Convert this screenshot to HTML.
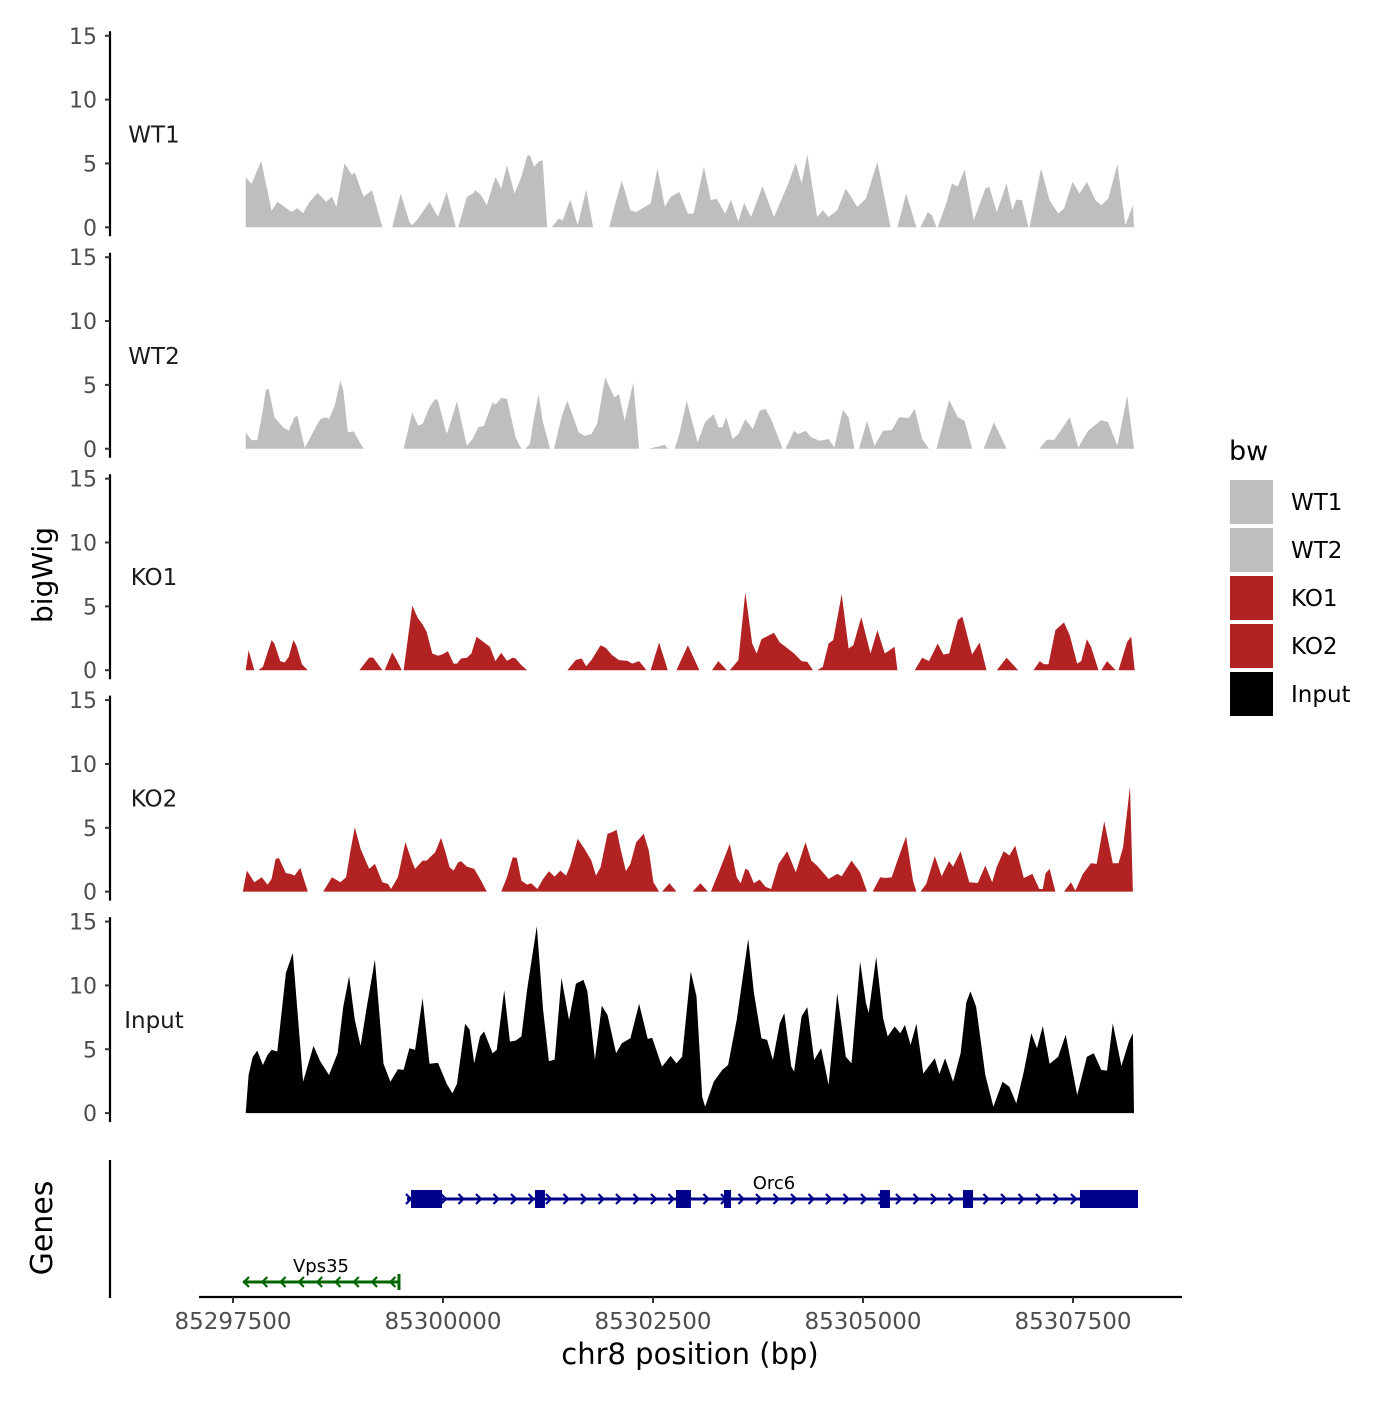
<!DOCTYPE html>
<html><head><meta charset="utf-8"><style>
html,body{margin:0;padding:0;background:#fff;}
svg text{font-family:"DejaVu Sans","Liberation Sans",sans-serif;}
</style></head><body>
<svg id="chart" width="1400" height="1400" viewBox="0 0 1400 1400" xmlns="http://www.w3.org/2000/svg">
<rect x="0" y="0" width="1400" height="1400" fill="#fff"/>
<g id="tracks"></g>
<g id="genes"></g>
<text x="52" y="575" font-size="28" fill="#000" text-anchor="middle" transform="rotate(-90 52 575)">bigWig</text>
<text x="52" y="1228" font-size="30" fill="#000" text-anchor="middle" transform="rotate(-90 52 1228)">Genes</text>
<text x="690" y="1364" font-size="29" fill="#000" text-anchor="middle">chr8 position (bp)</text>
<g>
<text x="1229" y="460" font-size="27" fill="#000">bw</text>
<g id="legend-keys"></g>
</g>
</svg>
<script>
const NS = "http://www.w3.org/2000/svg";
const START = 85297500;
// tick labels
const xTicks = [85297500, 85300000, 85302500, 85305000, 85307500];
const yTicks = [0, 5, 10, 15];
const trackNames = ["WT1", "WT2", "KO1", "KO2", "Input"];
const trackColors = ["#bebebe", "#bebebe", "#b22222", "#b22222", "#000000"];
// positions are bp offsets from START; null separates gaps
const wt1Pos = [151,151,220,336,459,527,698,767,835,903,1006,1108,1177,1231,1327,1416,1450,1553,1655,1778,null,
1895,1997,2100,2134,2202,2339,2441,2544,2653,null,
2681,2783,2852,2886,2954,3022,3125,3193,3262,3351,3433,3501,3535,3583,3638,3686,3740,null,
3795,3877,3925,4014,4103,4205,4287,null,
4479,4561,4629,4731,4800,4902,4971,5053,5142,5210,5313,5415,5483,5606,5689,5757,5859,5928,6017,6085,6167,6304,6440,6509,6611,6700,6769,6837,6953,7022,7090,7193,7295,7432,7534,7671,7828,null,
7910,8013,8136,null,8184,8272,8320,8375,null,
8389,8491,8560,8628,8710,8819,8956,9004,9093,9209,9278,9325,9394,9469,null,
9482,9619,9722,9824,9893,9995,10077,10166,10268,10337,10419,10528,10624,10712,10726];
const wt1Val = [0,3.9,3.4,5.2,1.3,2.0,1.2,1.5,1.1,1.9,2.7,2.0,2.4,1.6,5.0,4.1,4.3,2.4,2.9,0,null,
0,2.64,0.42,0.16,0.68,1.99,0.81,2.77,0,null,
0,2.38,2.64,2.9,2.51,1.73,3.95,3.04,4.87,2.64,3.95,5.58,5.65,4.74,5.13,5.26,0,null,
0,0.68,0.55,2.17,0.16,2.96,0,null,
0,2.09,3.66,1.34,1.2,1.6,1.86,4.61,1.6,2.38,2.77,1.07,1.07,4.74,2.12,2.25,1.07,2.17,0.42,1.92,0.81,3.22,0.81,1.86,3.43,5.05,3.43,5.73,0.81,1.34,0.81,1.34,3.04,1.6,2.25,5.13,0,null,
0,2.64,0,null,0,1.2,0.94,0,null,
0,1.86,3.43,3.17,4.53,0.55,3.04,3.17,1.2,3.43,1.34,2.17,2.12,0,null,
0,4.61,2.12,1.07,1.47,3.56,2.64,3.56,2.12,1.73,2.25,4.95,0.16,1.73,0];
const wt2Pos = [151,151,220,288,356,391,425,493,596,664,732,767,835,855,972,1040,1108,1143,1211,1279,1313,1368,1437,1553,null,
2031,2134,2202,2257,2339,2407,2441,2544,2578,2667,2783,2852,2920,2988,3091,3125,3193,3262,3364,3433,null,
3480,3535,3583,3638,3686,3775,null,
3822,3911,3980,4116,4185,4267,4335,4431,4492,4540,4595,4663,4766,4834,null,
4950,5142,5176,null,
5258,5313,5401,5531,5620,5723,5777,5825,5873,5948,6017,6099,6188,6270,6338,6406,6543,null,
6577,6680,6728,6816,6885,6987,7090,7158,7261,7329,7398,null,
7452,7548,7637,7739,7842,7931,8047,8115,8204,8286,null,
8375,8525,8628,8710,8799,null,8936,9058,9209,null,
9599,9688,9776,9961,10063,10180,10337,10419,10528,10645,10726];
const wt2Val = [0,1.28,0.68,0.68,3.04,4.61,4.69,2.46,1.68,1.41,2.46,2.59,0.63,0.05,1.54,2.33,2.46,2.33,3.38,5.34,4.56,1.28,1.36,0,null,
0,2.85,1.81,1.94,3.25,3.9,3.77,1.15,1.81,3.72,0.24,0.76,1.68,1.81,3.64,3.46,3.98,3.9,0.89,0,null,
0,0.37,2.46,4.29,2.2,0,null,
0,2.46,3.77,1.28,1.02,1.15,1.94,5.6,4.69,4.03,4.29,2.2,5.2,0,null,
0,0.31,0,null,
0,1.15,3.77,0.5,2.07,2.72,1.68,1.68,2.46,0.76,1.15,2.33,1.54,2.98,3.12,2.33,0,null,
0,1.41,1.15,1.41,0.89,0.63,0.76,0.1,3.04,2.46,0,null,
0,2.2,0.24,1.41,1.46,2.46,2.41,3.12,0.76,0,null,
0,3.82,2.46,2.2,0,null,0,2.07,0,null,
0,0.71,0.71,2.46,0.1,1.41,2.25,2.07,0.24,4.16,0];
const ko1Pos = [151,186,254,null,302,356,459,493,562,616,664,719,753,821,890,null,
1505,1621,1669,1778,null,1806,1895,1949,2011,null,
2031,2134,2202,2257,2305,2373,2441,2489,2558,2626,2667,2715,2783,2838,2900,2954,3057,3125,3193,3262,3330,3364,3433,3501,null,
3980,4082,4150,4205,4267,4376,4438,4513,4595,4697,4752,4834,4923,null,
4971,5073,5176,null,5278,5415,5552,null,5702,5777,5880,null,
5914,6017,6099,6181,6235,6290,6372,6440,6509,6577,6680,6769,6837,6905,null,
6953,7022,7090,7145,7247,7329,7384,7480,7589,7671,7760,7876,7910,null,
8115,8204,8286,8389,8457,8525,8628,8683,8799,8888,8970,null,
9093,9209,9346,null,
9530,9605,9653,9708,9790,9893,9961,10050,10098,10166,10214,10303,null,
10337,10405,10508,null,10542,10645,10693,10734];
const ko1Val = [0,1.57,0,null,0,0.26,2.36,2.09,0.71,0.6,1.05,2.36,1.96,0.45,0,null,
0,0.99,0.99,0,null,0,1.39,0.79,0,null,
0,5.05,4.06,3.59,3.01,1.31,1.13,1.23,1.49,0.52,0.52,0.92,0.97,1.31,2.62,2.36,1.83,0.71,1.36,0.73,0.99,0.92,0.39,0,null,
0,0.81,0.92,0.31,0.79,1.96,1.75,1.18,0.79,0.73,0.52,0.71,0,null,
0,2.17,0,null,0,1.96,0,null,0,0.71,0,null,
0,0.79,6.1,2.09,1.31,2.43,2.7,2.93,2.17,1.83,1.31,0.71,0.65,0,null,
0,0.26,2.09,2.36,5.94,1.7,1.96,4.14,1.31,3.14,1.31,1.83,0,null,
0,0.97,0.71,2.09,1.23,1.31,3.93,4.19,1.23,2.17,0,null,
0,0.97,0,null,
0,0.71,0.47,0.47,3.14,3.74,2.75,0.52,0.71,2.43,1.83,0,null,
0,0.71,0,null,0,2.23,2.62,0];
const ko2Pos = [117,165,254,343,411,459,507,548,630,685,732,801,849,890,null,
1074,1177,1279,1347,1395,1450,1519,1621,1689,1778,1847,1881,1963,2052,2134,2168,2257,2305,2407,2476,2524,2578,2626,2681,2715,2783,2872,2954,3022,null,
3193,3262,3330,3378,3433,3501,3549,3624,3692,3761,3829,3898,3966,4014,4103,4185,4267,4321,4376,4458,4513,4567,4609,4677,4731,4800,4889,4950,5005,5073,null,
5107,5196,5278,null,5470,5566,5654,null,
5689,5791,5914,5996,6044,6099,6133,6201,6270,6338,6406,6495,6598,6700,6816,6885,6953,7090,7193,7247,7363,7466,7548,null,
7616,7705,7773,7842,7910,8013,8095,8136,null,
8184,8252,8355,8437,8525,8573,8662,8765,8867,8956,9038,9093,9175,9243,9312,9414,9517,9599,9640,9674,9722,9790,null,
9893,9975,10029,10118,10214,10282,10371,10474,10542,10597,10679,10713];
const ko2Val = [0,1.65,0.73,1.13,0.55,0.99,2.57,2.62,1.44,1.39,1.26,1.86,0.86,0,null,
0,1.13,0.73,1.13,3.09,5.05,3.35,1.78,2.17,0.73,0.6,0.21,1.13,3.87,2.3,1.78,2.43,2.43,3.09,4.21,3.22,1.91,1.65,2.3,2.38,1.96,1.78,0.86,0,null,
0,1.13,2.7,2.64,0.86,0.55,0.65,0.21,0.99,1.6,1.18,1.65,1.26,2.04,4.14,3.35,2.43,1.26,1.91,4.53,4.66,4.84,3.48,1.6,2.17,3.87,4.53,3.22,0.73,0,null,
0,0.65,0,null,0,0.65,0,null,
0,1.65,3.74,1.13,0.65,1.78,1.7,0.65,0.94,0.39,0.21,2.17,3.17,1.52,3.87,2.43,2.04,0.99,1.39,1.2,2.43,1.52,0,null,
0,1.13,1.07,1.13,2.43,4.32,0.86,0,null,
0,0.6,2.77,1.2,2.38,1.96,3.17,0.73,0.68,2.04,0.73,1.96,3.17,2.83,3.61,1.07,1.39,0.21,0.21,1.44,1.78,0,null,
0,0.73,0.08,1.39,2.23,2.17,5.52,2.23,2.23,3.48,8.25,0];
const inputPos = [151,186,233,288,356,411,459,527,630,712,835,958,1040,1143,1245,1313,1382,1450,1519,1587,1689,1792,1874,1963,2031,2100,2168,2257,2339,2441,2544,2612,2667,2763,2817,2872,2940,2988,3091,3139,3228,3296,3364,3433,3501,3617,3692,3761,3829,3911,4000,4082,4171,4219,4308,4390,4458,4561,4629,4731,4834,4937,4991,5107,5210,5278,5347,5449,5518,5586,5620,5723,5825,5894,5996,6133,6201,6290,6358,6427,6509,6563,6646,6680,6769,6837,6919,7001,7090,7193,7295,7363,7466,7534,7568,7657,7739,7794,7876,7944,7999,8067,8136,8218,8355,8409,8477,8573,8662,8730,8778,8847,8956,9052,9161,9243,9325,9414,9503,9571,9640,9722,9824,9913,10050,10166,10248,10337,10405,10474,10576,10665,10713,10726];
const inputVal = [0,2.98,4.37,4.9,3.77,4.55,4.95,4.82,10.97,12.54,2.46,5.26,4.03,2.98,4.69,8.35,10.71,7.3,5.26,8.09,12.02,3.87,2.46,3.43,3.38,5.08,4.95,9.01,3.87,3.93,2.3,1.54,2.3,7.0,6.54,3.9,6.0,6.39,4.69,4.95,9.61,5.6,5.68,6.0,9.66,14.63,8.09,4.06,4.19,10.58,7.3,10.13,10.45,9.53,4.19,8.4,7.69,4.69,5.47,5.86,8.56,5.81,5.89,3.64,4.48,3.9,4.42,11.1,9.14,1.28,0.5,2.46,3.38,3.77,7.3,13.64,9.42,5.86,5.73,4.16,7.04,7.83,3.64,3.25,7.57,8.3,4.16,5.08,2.2,9.4,4.42,3.9,11.88,8.64,7.85,12.23,7.43,6.0,6.78,6.26,6.91,5.34,6.99,3.1,4.29,3.06,4.29,2.46,4.69,8.66,9.53,8.35,2.98,0.5,2.46,2.07,0.76,3.25,6.26,5.08,6.83,3.85,4.42,6.13,1.41,4.42,4.69,3.38,3.33,7.04,3.69,5.6,6.26,0];
// genes (absolute bp)
const orc6Span = [85299571, 85308274];
const orc6ExonStarts = [85299619, 85301095, 85302774, 85303345, 85305202, 85306190, 85307583];
const orc6ExonEnds = [85299988, 85301214, 85302952, 85303429, 85305321, 85306310, 85308274];
const vps35Span = [85297619, 85299476];

const trackPos = [wt1Pos, wt2Pos, ko1Pos, ko2Pos, inputPos];
const trackVal = [wt1Val, wt2Val, ko1Val, ko2Val, inputVal];

function xScale(bp){ return 233 + (bp - START) * 0.084; }
function baseY(k){ return 227.3 + 221.45 * k; }
function yScale(k, v){ return baseY(k) - v * 12.77; }

function mk(tag, attrs, parent){
  const e = document.createElementNS(NS, tag);
  for (const a in attrs) e.setAttribute(a, attrs[a]);
  parent.appendChild(e);
  return e;
}

const tracks = document.getElementById('tracks');
for (let k = 0; k < 5; k++){
  const g = mk('g', {}, tracks);
  
  
  // axis line
  const ax = mk('line', {x1:110, x2:110, y1:baseY(k)-196, y2:baseY(k)+9, stroke:'#000', 'stroke-width':2.2}, g);
  
  
  yTicks.forEach(t => {
    const y = yScale(k, t);
    const tk = mk('line', {x1:105, x2:110, y1:y, y2:y, stroke:'#333', 'stroke-width':2}, g);
    
    
    const tl = mk('text', {x:97, y:y+8, 'font-size':22, fill:'#4d4d4d', 'text-anchor':'end'}, g);
    tl.textContent = t;
    
    
  });
  const lab = mk('text', {x:154, y:baseY(k)-85, 'font-size':23, fill:'#1a1a1a', 'text-anchor':'middle'}, g);
  lab.textContent = trackNames[k];
  
  
  // area segments
  const P = trackPos[k], V = trackVal[k];
  let seg = [];
  const flush = () => {
    if (seg.length < 2) { seg = []; return; }
    let d = 'M' + xScale(START + seg[0][0]).toFixed(1) + ',' + baseY(k).toFixed(1);
    seg.forEach(p => { d += 'L' + xScale(START + p[0]).toFixed(1) + ',' + yScale(k, p[1]).toFixed(1); });
    d += 'L' + xScale(START + seg[seg.length-1][0]).toFixed(1) + ',' + baseY(k).toFixed(1) + 'Z';
    const a = mk('path', {d:d, fill:trackColors[k]}, g);
    
    
    seg = [];
  };
  for (let i = 0; i < P.length; i++){
    if (P[i] === null || V[i] === null) flush(); else seg.push([P[i], V[i]]);
  }
  flush();
}

// legend
const lk = document.getElementById('legend-keys');
for (let k = 0; k < 5; k++){
  const y = 480 + 48 * k;
  const r = mk('rect', {x:1230, y:y, width:43, height:44, fill:trackColors[k]}, lk);
  
  
  const t = mk('text', {x:1291, y:y+30, 'font-size':23, fill:'#000'}, lk);
  t.textContent = trackNames[k];
  
  
}

// gene track
const gg = document.getElementById('genes');
const gax = mk('line', {x1:110, x2:110, y1:1160, y2:1298, stroke:'#000', 'stroke-width':2.2}, gg);


const xax = mk('line', {x1:199, x2:1182, y1:1297, y2:1297, stroke:'#000', 'stroke-width':2.2}, gg);


xTicks.forEach(t => {
  const x = xScale(t);
  const tk = mk('line', {x1:x, x2:x, y1:1297, y2:1303, stroke:'#333', 'stroke-width':2}, gg);
  
  
  const tl = mk('text', {x:x, y:1329, 'font-size':23, fill:'#4d4d4d', 'text-anchor':'middle'}, gg);
  tl.textContent = t;
  
  
});
// Orc6
const oc = '#00008b', oy = 1199;
const og = mk('g', {}, gg);


const ox1 = xScale(orc6Span[0]), ox2 = xScale(orc6Span[1]);
mk('line', {x1:ox1, x2:ox2, y1:oy, y2:oy, stroke:oc, 'stroke-width':3}, og);
for (let x = ox1 + 2; x < ox2 - 4; x += 17.5){
  mk('path', {d:`M${x-3},${oy-5}L${x+2},${oy}L${x-3},${oy+5}`, fill:'none', stroke:oc, 'stroke-width':2.2}, og);
}
for (let i = 0; i < orc6ExonStarts.length; i++){
  const e = mk('rect', {x:xScale(orc6ExonStarts[i]), y:oy-9, width:xScale(orc6ExonEnds[i])-xScale(orc6ExonStarts[i]), height:18, fill:oc}, og);
  
  
}
const ol = mk('text', {x:774, y:1189, 'font-size':18, fill:'#000', 'text-anchor':'middle'}, og);
ol.textContent = 'Orc6';


// Vps35
const vc = '#006400', vy = 1282;
const vg = mk('g', {}, gg);


const vx1 = xScale(vps35Span[0]), vx2 = xScale(vps35Span[1]);
mk('line', {x1:vx1, x2:vx2, y1:vy, y2:vy, stroke:vc, 'stroke-width':3}, vg);
mk('line', {x1:vx2, x2:vx2, y1:vy-8, y2:vy+8, stroke:vc, 'stroke-width':3}, vg);
for (let x = vx1 + 2; x < vx2 - 4; x += 18.3){
  mk('path', {d:`M${x+4},${vy-5}L${x-1},${vy}L${x+4},${vy+5}`, fill:'none', stroke:vc, 'stroke-width':2.2}, vg);
}
const vl = mk('text', {x:321, y:1272, 'font-size':18, fill:'#000', 'text-anchor':'middle'}, vg);
vl.textContent = 'Vps35';


</script>
</body></html>
